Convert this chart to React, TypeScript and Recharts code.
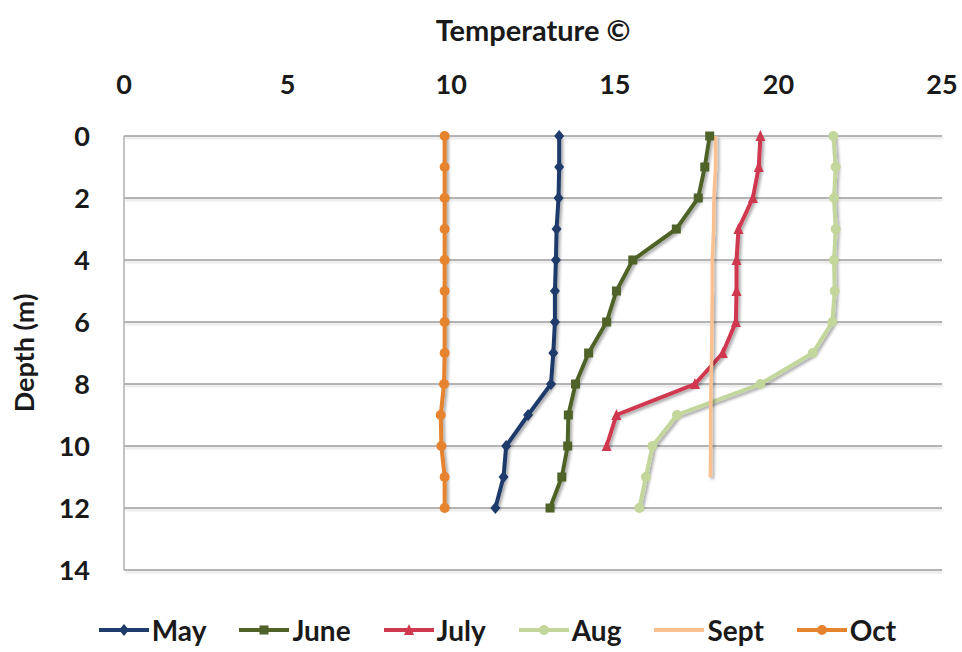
import React from "react";
import { CartesianGrid, Label, Legend, Line, LineChart, XAxis, YAxis } from "recharts";

const depths = [0, 1, 2, 3, 4, 5, 6, 7, 8, 9, 10, 11, 12];
const may = [13.3, 13.3, 13.28, 13.22, 13.2, 13.17, 13.17, 13.12, 13.05, 12.35, 11.68, 11.6, 11.35];
const june = [17.9, 17.75, 17.55, 16.88, 15.55, 15.05, 14.75, 14.2, 13.8, 13.58, 13.56, 13.38, 13.02];
const july = [19.45, 19.4, 19.22, 18.78, 18.72, 18.72, 18.7, 18.3, 17.45, 15.05, 14.75, null, null];
const aug = [21.68, 21.75, 21.7, 21.75, 21.7, 21.72, 21.65, 21.05, 19.45, 16.9, 16.15, 15.95, 15.75];
const sept = [18.08, 18.08, 18.03, 18.02, 17.98, 17.98, 17.97, 17.96, 17.94, 17.93, 17.93, 17.92, null];
const oct = [9.8, 9.8, 9.8, 9.8, 9.8, 9.8, 9.8, 9.8, 9.78, 9.68, 9.7, 9.8, 9.8];

const tempTicks = [0, 5, 10, 15, 20, 25];
const depthTicks = [0, 2, 4, 6, 8, 10, 12, 14];

type Marker = "diamond" | "square" | "triangle" | "circle" | "none";

const series: { key: string; name: string; color: string; marker: Marker; values: (number | null)[] }[] = [
  { key: "may", name: "May", color: "#1f3b6b", marker: "diamond", values: may },
  { key: "june", name: "June", color: "#4f6228", marker: "square", values: june },
  { key: "july", name: "July", color: "#d0384f", marker: "triangle", values: july },
  { key: "aug", name: "Aug", color: "#c3d69b", marker: "circle", values: aug },
  { key: "sept", name: "Sept", color: "#fac090", marker: "none", values: sept },
  { key: "oct", name: "Oct", color: "#e6832e", marker: "circle", values: oct },
];

const data = depths.map((depth, i) => {
  const row: Record<string, number | null> = { depth };
  series.forEach((s) => {
    row[s.key] = s.values[i];
  });
  return row;
});

const FONT = "Lato, 'Open Sans', sans-serif";

function markerShape(marker: Marker, cx: number, cy: number, color: string, r = 5) {
  switch (marker) {
    case "diamond":
      return <path d={`M${cx},${cy - r - 1} L${cx + r},${cy} L${cx},${cy + r + 1} L${cx - r},${cy} Z`} fill={color} />;
    case "square":
      return <rect x={cx - r + 0.5} y={cy - r + 0.5} width={2 * r - 1} height={2 * r - 1} fill={color} />;
    case "triangle":
      return <path d={`M${cx},${cy - r - 1} L${cx + r},${cy + r} L${cx - r},${cy + r} Z`} fill={color} />;
    case "circle":
      return <circle cx={cx} cy={cy} r={r} fill={color} />;
    default:
      return <g />;
  }
}

function makeDot(marker: Marker, color: string) {
  return (props: any) => {
    const { cx, cy, index } = props;
    if (cx == null || cy == null || marker === "none") return <g key={index} />;
    return <g key={index}>{markerShape(marker, cx, cy, color)}</g>;
  };
}

function LegendContent() {
  return (
    <div
      style={{
        height: 82,
        display: "flex",
        alignItems: "flex-end",
        justifyContent: "center",
        paddingLeft: 86,
        boxSizing: "border-box",
        fontFamily: FONT,
        fontWeight: 700,
        fontSize: 28,
        color: "#1a1a1a",
      }}
    >
      {series.map((s) => (
        <div key={s.key} style={{ display: "flex", alignItems: "center", marginRight: 33, height: 40, marginBottom: 2 }}>
          <svg width={50} height={20} style={{ marginRight: 3 }}>
            <line x1={0} y1={10} x2={50} y2={10} stroke={s.color} strokeWidth={4} />
            {markerShape(s.marker, 25, 10, s.color)}
          </svg>
          <span>{s.name}</span>
        </div>
      ))}
    </div>
  );
}

export default function App() {
  return (
    <div style={{ position: "absolute", left: 0, top: 0, width: 962, height: 652, background: "#fff" }}>
      <style>{`.recharts-line { filter: url(#shadow); } .recharts-cartesian-grid-horizontal { filter: url(#gshadow); }`}</style>
      <svg width={0} height={0} style={{ position: "absolute" }}>
        <defs>
          <filter id="shadow" filterUnits="userSpaceOnUse" x={0} y={0} width={962} height={652}>
            <feDropShadow dx={2} dy={2} stdDeviation={1.5} floodColor="#000" floodOpacity={0.35} />
          </filter>
          <filter id="gshadow" filterUnits="userSpaceOnUse" x={0} y={0} width={962} height={652}>
            <feDropShadow dx={1} dy={2} stdDeviation={1} floodColor="#000" floodOpacity={0.15} />
          </filter>
        </defs>
      </svg>
      <LineChart
        width={962}
        height={652}
        data={data}
        layout="vertical"
        margin={{ top: 0, right: 20, bottom: 0, left: 0 }}
      >
        <CartesianGrid horizontal vertical={false} stroke="#9c9c9c" strokeWidth={1.5} />
        <XAxis
          type="number"
          orientation="top"
          domain={[0, 25]}
          ticks={tempTicks}
          height={136}
          axisLine={false}
          tickLine={false}
          tickSize={0}
          tickMargin={42}
          tick={{ fill: "#1a1a1a", fontSize: 27, fontWeight: 700, fontFamily: FONT }}
          interval={0}
        >
          <Label
            content={({ viewBox }: any) => (
              <text
                x={viewBox.x + viewBox.width / 2}
                y={41}
                textAnchor="middle"
                fill="#1a1a1a"
                fontSize={29}
                fontWeight={700}
                fontFamily={FONT}
              >
                Temperature ©
              </text>
            )}
          />
        </XAxis>
        <YAxis
          type="number"
          dataKey="depth"
          domain={[0, 14]}
          ticks={depthTicks}
          width={124}
          axisLine={{ stroke: "#b0b0b0", strokeWidth: 1.5 }}
          tickLine={false}
          tickSize={0}
          tickMargin={34}
          tick={{ fill: "#1a1a1a", fontSize: 27, fontWeight: 700, fontFamily: FONT }}
          interval={0}
        >
          <Label
            content={({ viewBox }: any) => (
              <text
                x={34}
                y={viewBox.y + viewBox.height / 2}
                transform={`rotate(-90 34 ${viewBox.y + viewBox.height / 2})`}
                textAnchor="middle"
                fill="#1a1a1a"
                fontSize={27}
                fontWeight={700}
                fontFamily={FONT}
              >
                Depth (m)
              </text>
            )}
          />
        </YAxis>
        <Legend verticalAlign="bottom" content={<LegendContent />} />
        {series.map((s) => (
          <Line
            key={s.key}
            dataKey={s.key}
            name={s.name}
            type="linear"
            stroke={s.color}
            strokeWidth={s.key === "sept" ? 3.5 : 4}
            dot={makeDot(s.marker, s.color)}
            activeDot={false}
            isAnimationActive={false}
          />
        ))}
      </LineChart>
    </div>
  );
}
